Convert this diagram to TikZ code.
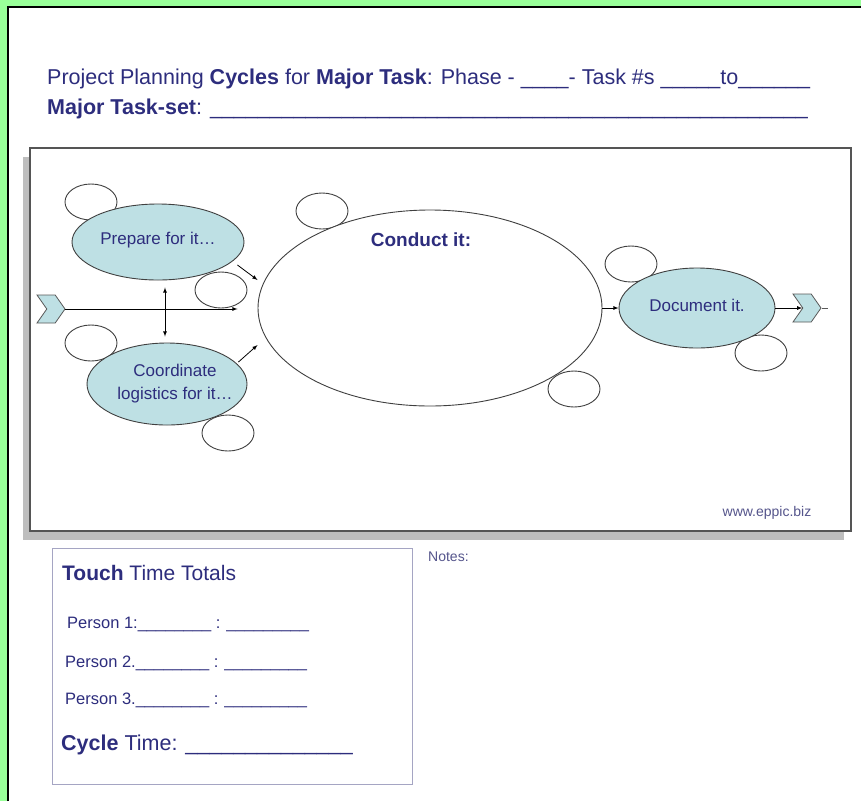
\documentclass[tikz,border=0pt]{standalone}
\usepackage{fontspec}
\setmainfont{Liberation Sans}
\usetikzlibrary{shapes.geometric, shapes.symbols, arrows, calc}

\definecolor{pagegreen}{RGB}{153,255,153}
\definecolor{inkblue}{RGB}{45,45,125}
\definecolor{softblue}{RGB}{85,85,140}
\definecolor{tealfill}{RGB}{190,224,228}
\definecolor{framegray}{RGB}{85,85,85}
\definecolor{shadowgray}{RGB}{190,190,190}
\definecolor{boxline}{RGB}{165,165,195}

\begin{document}
\begin{tikzpicture}[x=1pt, y=-1pt,
    task/.style={ellipse, draw=black!75, line width=0.9pt, fill=tealfill, inner sep=0pt},
    bubble/.style={ellipse, draw=black!75, line width=0.9pt, minimum width=52pt, minimum height=36pt, inner sep=0pt},
    chev/.style={signal, signal from=west, signal to=east, signal pointer angle=110, draw=black!65, line width=0.8pt, fill=tealfill, minimum width=28pt, minimum height=28pt, inner sep=0pt},
    arr/.style={-latex, line width=0.8pt},
    txt/.style={text=inkblue, inner sep=0pt}]

\useasboundingbox (0,0) rectangle (861,801);

% page and frames
\fill[pagegreen] (0,0) rectangle (861,801);
\fill[white] (8,7) rectangle (861,801);
\draw[black, line width=1.2pt] (8,801) -- (8,7) -- (861,7);
\fill[shadowgray] (23,157) rectangle (844,540);
\draw[framegray, line width=1.5pt, fill=white] (30,148) rectangle (851,531);
\draw[boxline, line width=1pt] (52,548) rectangle (412,784);

% heading
\node[txt, anchor=base west, font=\fontsize{21.5}{25}\selectfont] (title) at (47,84)
    {Project Planning \textbf{Cycles} for \textbf{Major Task}: Phase - \_\_\_\_- Task \#s \_\_\_\_\_to\_\_\_\_\_\_};
\node[txt, anchor=base west, font=\fontsize{21.5}{25}\selectfont] (taskset) at (47,114)
    {\textbf{Major Task-set}: \_\_\_\_\_\_\_\_\_\_\_\_\_\_\_\_\_\_\_\_\_\_\_\_\_\_\_\_\_\_\_\_\_\_\_\_\_\_\_\_\_\_\_\_\_\_\_\_\_\_};

% blank bubbles
\node[bubble] (b1) at (91,202) {};
\node[bubble] (b2) at (221,290) {};
\node[bubble] (b3) at (91,343) {};
\node[bubble] (b4) at (228,433) {};
\node[bubble] (b5) at (322,211) {};
\node[bubble] (b6) at (574,389) {};
\node[bubble] (b7) at (631,264) {};
\node[bubble] (b8) at (761,353) {};

% cycle steps
\node[task, minimum width=172pt, minimum height=76pt] (prep) at (158,242) {};
\node[task, minimum width=160pt, minimum height=82pt] (coord) at (167,384) {};
\node[task, fill=white, minimum width=344pt, minimum height=196pt] (cond) at (430,308) {};
\node[task, minimum width=156pt, minimum height=80pt] (doc) at (697,308) {};

\node[txt, font=\fontsize{17}{20}\selectfont] (preptext) at (158,240) {Prepare for it…};
\node[txt, align=center, font=\fontsize{17}{23}\selectfont] (coordtext) at (175,384) {Coordinate\\logistics for it…};
\node[txt, font=\bfseries\fontsize{19}{22}\selectfont] (condtext) at (421,240) {Conduct it:};
\node[txt, font=\fontsize{17}{20}\selectfont] (doctext) at (697,305) {Document it.};

\node[chev] (inarr) at (51,309) {};
\node[chev] (outarr) at (807,308) {};

% connectors
\draw[arr] (inarr.east) -- ($(cond.west)+(-20,1)$);
\draw[arr] ($(prep.east)+(-7,23)$) -- ($(cond.west)+(0,-28)$);
\draw[arr] ($(coord.east)+(-9,-22)$) -- ($(cond.west)+(0,37)$);
\draw[latex-latex, line width=0.8pt] ($(prep.south)+(7,7)$) -- ($(coord.north)+(-2,-6)$);
\draw[arr] (cond.east) -- (doc.west);
\draw[arr] (doc.east) -- (outarr.west);
\draw[black!65, line width=0.8pt] (outarr.east) -- ++(6,0);

\node[text=softblue, inner sep=0pt, font=\fontsize{14}{16}\selectfont] (web) at (767,513) {www.eppic.biz};
\node[text=softblue, inner sep=0pt, anchor=west, font=\fontsize{14}{16}\selectfont] (notes) at (428,557) {Notes:};

% touch time totals
\node[txt, anchor=base west, font=\fontsize{21}{25}\selectfont] (touch) at (62,580) {\textbf{Touch} Time Totals};
\node[txt, anchor=base west, font=\fontsize{16.5}{20}\selectfont] (p1) at (67,628) {Person 1:\_\_\_\_\_\_\_\_ : \_\_\_\_\_\_\_\_\_};
\node[txt, anchor=base west, font=\fontsize{16.5}{20}\selectfont] (p2) at (65,667) {Person 2.\_\_\_\_\_\_\_\_ : \_\_\_\_\_\_\_\_\_};
\node[txt, anchor=base west, font=\fontsize{16.5}{20}\selectfont] (p3) at (65,704) {Person 3.\_\_\_\_\_\_\_\_ : \_\_\_\_\_\_\_\_\_};
\node[txt, anchor=base west, font=\fontsize{21.5}{26}\selectfont] (cycle) at (61,750) {\textbf{Cycle} Time: \_\_\_\_\_\_\_\_\_\_\_\_\_\_};
\end{tikzpicture}
\end{document}
